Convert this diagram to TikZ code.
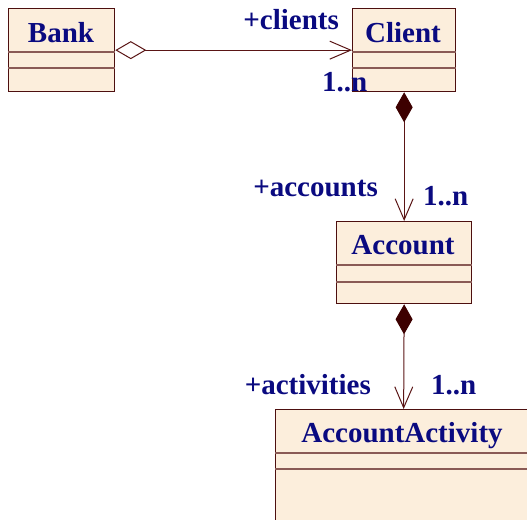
\documentclass[tikz,border=0pt]{standalone}
\usepackage{fontspec}
\setmainfont{Liberation Serif}
\usetikzlibrary{arrows.meta}
\definecolor{boxfill}{HTML}{FCEEDC}
\definecolor{boxline}{HTML}{4D0F0F}
\definecolor{sepline}{HTML}{8A5A55}
\definecolor{txt}{HTML}{0A0A80}
\definecolor{conncol}{HTML}{5A1515}
\definecolor{diamfill}{HTML}{3D0000}
\tikzset{
  classbox/.style={draw=boxline, fill=boxfill, line width=1.3pt, inner sep=0pt, anchor=north west},
  sepl/.style={draw=sepline, line width=1.1pt},
  cname/.style={text=txt, font=\fontsize{29}{32}\selectfont\bfseries, anchor=base, inner sep=0pt},
  rlabel/.style={text=txt, font=\fontsize{29}{32}\selectfont\bfseries, inner sep=0pt},
  conn/.style={draw=conncol, line width=1pt},
  aggr/.style={conn, {Diamond[open, length=31pt, width=18pt, fill=white]}-{Straight Barb[length=21pt, width=18pt]}},
  comp/.style={conn, {Diamond[length=30pt, width=17pt, fill=diamfill, color=diamfill]}-{Straight Barb[length=21pt, width=18pt]}}
}
\begin{document}
\begin{tikzpicture}[x=1pt,y=-1pt]
\useasboundingbox (0,0) rectangle (527,519);
\clip (0,0) rectangle (527,519);
% class boxes
\node[classbox, minimum width=106pt, minimum height=83pt] (bank) at (8,8) {};
\node[classbox, minimum width=103pt, minimum height=83pt] (client) at (352,8) {};
\node[classbox, minimum width=135pt, minimum height=82pt] (account) at (336,221) {};
\node[classbox, minimum width=256pt, minimum height=130pt] (activity) at (275,409) {};
% compartments
\foreach \b/\s/\t in {bank/44/60, client/44/60, account/44/61, activity/44/60}{
  \draw[sepl] ([yshift=-\s pt]\b.north west) -- ([yshift=-\s pt]\b.north east);
  \draw[sepl] ([yshift=-\t pt]\b.north west) -- ([yshift=-\t pt]\b.north east);
}
% names
\node[cname] (bankname) at (61,43) {Bank};
\node[cname] (clientname) at (403,43) {Client};
\node[cname] (accountname) at (403,254) {Account};
\node[cname] (activityname) at (402,442) {AccountActivity};
% connectors
\draw[aggr] (bank.east) -- (client.west);
\draw[comp] (client.south) -- (account.north);
\draw[comp] (account.south) -- (activity.north);
% role labels
\node[rlabel, anchor=base east] (lclients) at (339,30) {+clients};
\node[rlabel, anchor=base west] (mclients) at (322,91) {1..n};
\node[rlabel, anchor=base east] (laccounts) at (378,196) {+accounts};
\node[rlabel, anchor=base west] (maccounts) at (423,205) {1..n};
\node[rlabel, anchor=base east] (lactivities) at (371,394) {+activities};
\node[rlabel, anchor=base west] (mactivities) at (431,394) {1..n};
\end{tikzpicture}
\end{document}
